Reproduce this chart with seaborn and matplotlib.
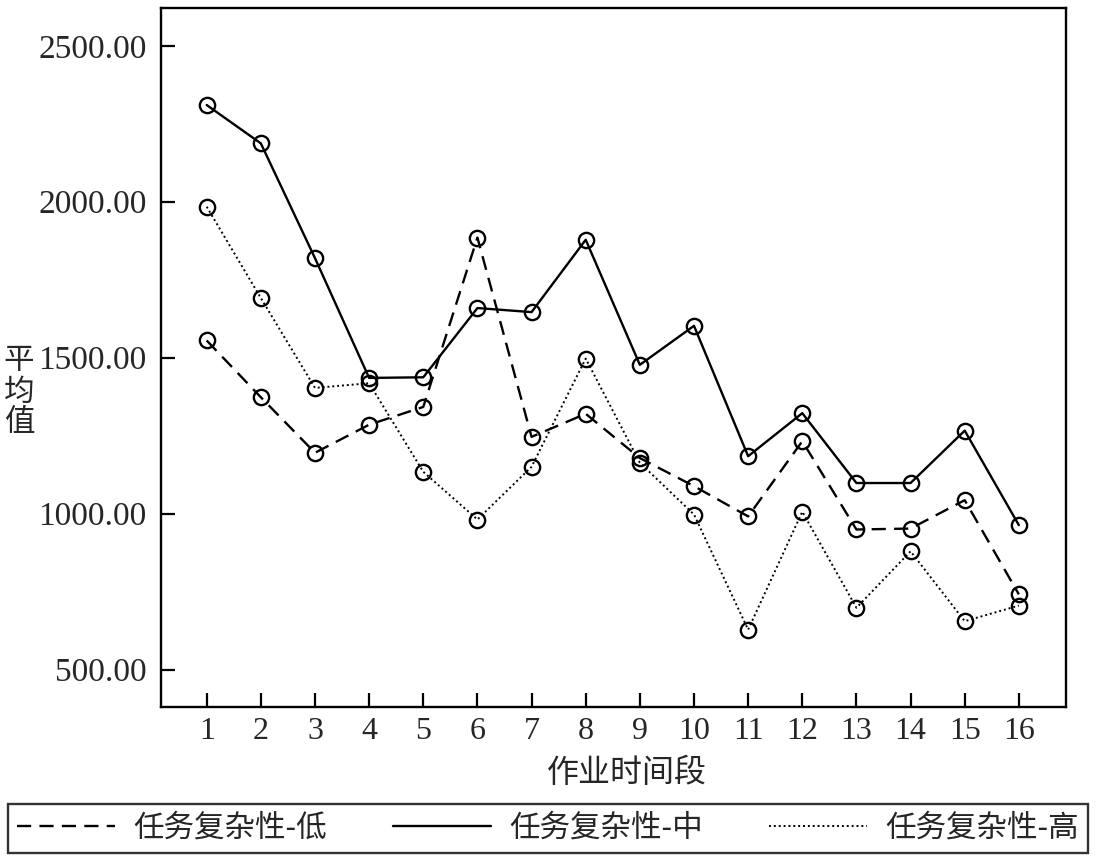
import matplotlib
matplotlib.use("Agg")
import matplotlib.pyplot as plt
import matplotlib.ticker as mticker
import seaborn as sns
import pandas as pd

# x: work period, y: mean value for each task-complexity level
periods = list(range(1, 17))
low_vals = [1555, 1373, 1195, 1285, 1342, 1885, 1246, 1320,
            1178, 1088, 991, 1232, 949, 952, 1043, 741]
mid_vals = [2310, 2187, 1819, 1435, 1437, 1659, 1646, 1878,
            1477, 1602, 1184, 1322, 1098, 1098, 1266, 963]
high_vals = [1984, 1691, 1403, 1418, 1134, 981, 1150, 1497,
             1163, 997, 628, 1006, 698, 879, 655, 705]
series_names = ["任务复杂性-低", "任务复杂性-中", "任务复杂性-高"]
y_ticks = [500, 1000, 1500, 2000, 2500]

sns.set_theme(style="ticks")
plt.rcParams["font.family"] = ["Liberation Serif", "Noto Sans CJK SC"]
plt.rcParams["axes.unicode_minus"] = False
CJK = ["Noto Sans CJK SC", "DejaVu Sans"]

fig = plt.figure(figsize=(10.96, 8.59), dpi=100)
ax = fig.add_axes([0.1466, 0.177, 0.8260, 0.8133])

styles = [
    (low_vals, (0, (6, 3.5)), 1.7),
    (mid_vals, "-", 1.7),
    (high_vals, (0, (1, 1.5)), 1.4),
]
handles = []
for name, (vals, ls, lw) in zip(series_names, styles):
    df = pd.DataFrame({"period": periods, "value": vals})
    sns.lineplot(data=df, x="period", y="value", ax=ax, color="black",
                 linestyle=ls, linewidth=lw, marker="o", markersize=11,
                 markerfacecolor="none", markeredgecolor="black",
                 markeredgewidth=1.7, legend=False)
    handles.append(plt.Line2D([], [], color="black", linestyle=ls, linewidth=lw))

ax.set_xlim(0.15, 16.87)
ax.set_ylim(380, 2620)
ax.set_xticks(periods)
ax.set_yticks(y_ticks)
ax.yaxis.set_major_formatter(mticker.FuncFormatter(lambda v, _: f"{v:.2f}"))
ax.tick_params(axis="both", direction="in", length=10, width=1.6, color="black")
ax.tick_params(axis="y", labelsize=24, pad=10)
ax.tick_params(axis="x", labelsize=23, pad=7)
for s in ax.spines.values():
    s.set_linewidth(1.7)
    s.set_color("black")
ax.set_xlabel("")
ax.set_ylabel("")

fig.text(627 / 1096, 1 - 773 / 859, "作业时间段", family=CJK, fontsize=23,
         ha="center", va="center")
fig.text(19 / 1096, 1 - 392 / 859, "平\n均\n值", family=CJK, fontsize=22,
         ha="center", va="center", linespacing=1.0)

leg = fig.legend(handles, series_names, loc="lower left", ncol=3, mode="expand",
                 bbox_to_anchor=(8 / 1096, 1 - 853 / 859, 1080 / 1096, 55 / 859),
                 borderaxespad=0, frameon=True, fancybox=False,
                 handlelength=3.2, handletextpad=0.6, columnspacing=0.8,
                 borderpad=0.3, prop={"family": CJK, "size": 22})
leg.get_frame().set_edgecolor("black")
leg.get_frame().set_linewidth(1.7)

fig.savefig("out.png", dpi=100)
